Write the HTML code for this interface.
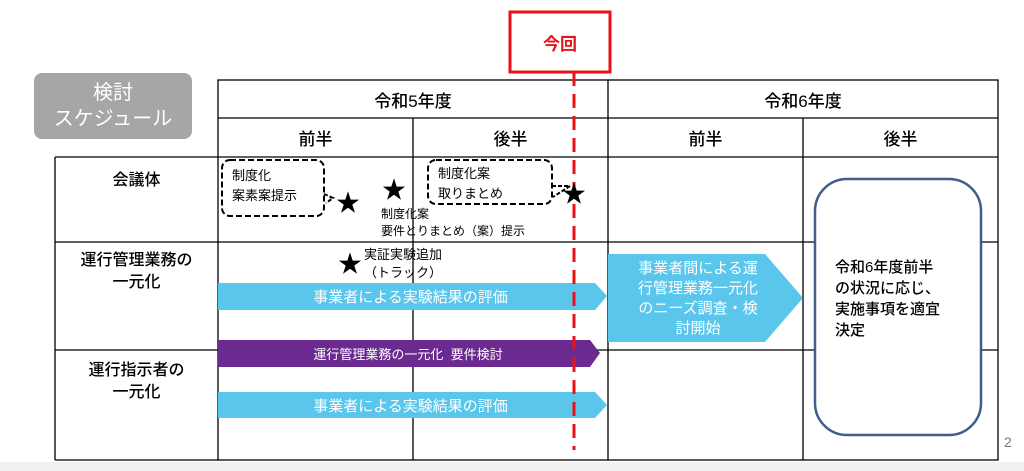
<!DOCTYPE html>
<html><head><meta charset="utf-8"><style>
body{margin:0;width:1024px;height:471px;background:#fff;position:relative;overflow:hidden;font-family:"Liberation Sans","Noto Sans CJK JP",sans-serif;color:#000}
.a{position:absolute}
.c{display:flex;align-items:center;justify-content:center;text-align:center}
.h{font-weight:500}
</style></head><body>
<div class="a" style="left:0;top:462px;width:1024px;height:9px;background:#f0f0f0"></div>
<svg class="a" style="left:0;top:0" width="1024" height="471">
<g stroke="#000" stroke-width="1.3" fill="none">
<rect x="218" y="80" width="780" height="380"/>
<line x1="55" y1="157" x2="998" y2="157"/>
<line x1="55" y1="157" x2="55" y2="460"/>
<line x1="55" y1="460" x2="218" y2="460"/>
<line x1="218" y1="118" x2="998" y2="118"/>
<line x1="55" y1="242" x2="998" y2="242"/>
<line x1="55" y1="350" x2="998" y2="350"/>
<line x1="413" y1="118" x2="413" y2="460"/>
<line x1="608" y1="80" x2="608" y2="460"/>
<line x1="803" y1="118" x2="803" y2="460"/>
</g>
<polygon points="218,283 595,283 607,296 595,310 218,310" fill="#5bc6ec"/>
<polygon points="218,340 590,340 600,353 590,367 218,367" fill="#6a2a8f"/>
<polygon points="218,392 595,392 607,405 595,418 218,418" fill="#5bc6ec"/>
<polygon points="608,254 765,254 803,298 765,342 608,342" fill="#5bc6ec"/>
<rect x="815" y="179" width="166" height="256" rx="32" fill="#fff" stroke="#3e5f8a" stroke-width="2.5"/>
<rect x="222" y="160" width="102" height="56" rx="8" fill="#fff" stroke="#000" stroke-width="2" stroke-dasharray="6,3"/>
<path d="M324,194 L333,198 L326,203" fill="none" stroke="#000" stroke-width="2" stroke-dasharray="4,2"/>
<rect x="428" y="160" width="124" height="44" rx="8" fill="#fff" stroke="#000" stroke-width="2" stroke-dasharray="6,3"/>
<path d="M552,186 L570,186 L553,197" fill="none" stroke="#000" stroke-width="2" stroke-dasharray="4,2"/>
<line x1="574" y1="72" x2="574" y2="450" stroke="#e8121b" stroke-width="3" stroke-dasharray="14,8"/>
<rect x="510" y="12" width="100" height="60" fill="#fff" stroke="#e8121b" stroke-width="3"/>
</svg>
<div class="a c" style="left:510px;top:12px;width:100px;height:60px;color:#e8121b;font-weight:bold;font-size:17px">今回</div>
<div class="a c" style="left:34px;top:73px;width:158px;height:66px;background:#a6a6a6;border-radius:8px;color:#fff;font-size:20px;line-height:26px">検討<br>スケジュール</div>
<div class="a c h" style="left:218px;top:80px;width:390px;height:38px;font-size:17px">令和5年度</div>
<div class="a c h" style="left:608px;top:80px;width:390px;height:38px;font-size:17px">令和6年度</div>
<div class="a c h" style="left:218px;top:118px;width:195px;height:39px;font-size:17px">前半</div>
<div class="a c h" style="left:413px;top:118px;width:195px;height:39px;font-size:17px">後半</div>
<div class="a c h" style="left:608px;top:118px;width:195px;height:39px;font-size:17px">前半</div>
<div class="a c h" style="left:803px;top:118px;width:195px;height:39px;font-size:17px">後半</div>
<div class="a h" style="left:55px;top:166px;width:163px;text-align:center;font-size:16px">会議体</div>
<div class="a h" style="left:55px;top:250px;width:163px;text-align:center;font-size:16px;line-height:22px">運行管理業務の<br>一元化</div>
<div class="a h" style="left:55px;top:360px;width:163px;text-align:center;font-size:16px;line-height:22px">運行指示者の<br>一元化</div>
<div class="a" style="left:232px;top:166px;font-size:13px;line-height:20px">制度化<br>案素案提示</div>
<div class="a" style="left:438px;top:164px;font-size:13px;line-height:20px">制度化案<br>取りまとめ</div>
<div class="a" style="left:336px;top:183px;font-size:24px">★</div>
<div class="a" style="left:382px;top:170px;font-size:24px">★</div>
<div class="a" style="left:562px;top:174px;font-size:24px">★</div>
<div class="a" style="left:381px;top:206px;font-size:12px;line-height:17px">制度化案<br>要件とりまとめ（案）提示</div>
<div class="a" style="left:338px;top:244px;font-size:24px">★</div>
<div class="a" style="left:364px;top:246px;font-size:13px;line-height:18px">実証実験追加<br>（トラック）</div>
<div class="a c" style="left:218px;top:283px;width:385px;height:27px;color:#fff;font-size:15px">事業者による実験結果の評価</div>
<div class="a c" style="left:218px;top:340px;width:380px;height:27px;color:#fff;font-size:13px">運行管理業務の一元化&nbsp;&nbsp;要件検討</div>
<div class="a c" style="left:218px;top:392px;width:385px;height:27px;color:#fff;font-size:15px">事業者による実験結果の評価</div>
<div class="a c" style="left:610px;top:256px;width:176px;height:86px;color:#fff;font-size:15px;line-height:20px">事業者間による運<br>行管理業務一元化<br>のニーズ調査・検<br>討開始</div>
<div class="a h" style="left:835px;top:257px;font-size:15px;line-height:21px">令和6年度前半<br>の状況に応じ、<br>実施事項を適宜<br>決定</div>
<div class="a" style="left:1004px;top:434px;font-size:14px;color:#777">2</div>
</body></html>
